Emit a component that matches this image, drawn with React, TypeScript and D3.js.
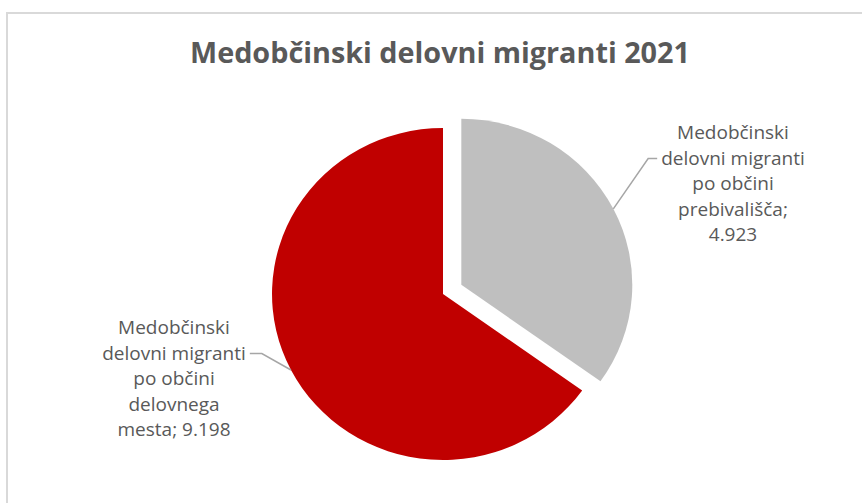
import { useRef, useEffect } from 'react';
import * as d3 from 'd3';

// Chart data
const categories = [
  'Medobčinski delovni migranti po občini prebivališča',
  'Medobčinski delovni migranti po občini delovnega mesta',
];
const values = [4923, 9198];
const colors = ['#BFBFBF', '#C00000'];
// label lines as Excel wrapped them
const labelLines = [
  ['Medobčinski', 'delovni migranti', 'po občini', 'prebivališča;', '{v}'],
  ['Medobčinski', 'delovni migranti', 'po občini', 'delovnega', 'mesta; {v}'],
];
const title = 'Medobčinski delovni migranti 2021';

const W = 862;
const H = 503;

export default function App() {
  const svgRef = useRef<SVGSVGElement>(null);

  useEffect(() => {
    if (!svgRef.current) return;
    const svg = d3.select(svgRef.current);
    svg.selectAll('*').remove();

    const slFormat = d3.formatLocale({
      decimal: ',',
      thousands: '.',
      grouping: [3],
      currency: ['', ' €'],
    }).format(',d');

    // chart area border (runs off the right/bottom of the shot)
    svg.append('rect')
      .attr('x', 7)
      .attr('y', 13)
      .attr('width', W + 40)
      .attr('height', H + 40)
      .attr('fill', '#fff')
      .attr('stroke', '#D9D9D9')
      .attr('stroke-width', 2);

    svg.append('text')
      .attr('x', 440)
      .attr('y', 63)
      .attr('text-anchor', 'middle')
      .attr('textLength', 500)
      .attr('lengthAdjust', 'spacingAndGlyphs')
      .style('font-family', '"Open Sans", sans-serif')
      .style('font-weight', 700)
      .style('font-size', '28px')
      .style('fill', '#595959')
      .text(title);

    // pie geometry
    const cx = 443;
    const cy = 294;
    const r = 166;
    const sx = 1.03; // picture is a touch wider than tall
    const explode = 20;

    const pie = d3.pie<number>().sort(null).value(d => d);
    const arcs = pie(values);
    const arc = d3.arc<d3.PieArcDatum<number>>().innerRadius(0).outerRadius(r);

    const offset = (d: d3.PieArcDatum<number>, i: number) => {
      if (i !== 0) return [0, 0];
      const a = (d.startAngle + d.endAngle) / 2;
      return [explode * Math.sin(a), -explode * Math.cos(a)];
    };

    const g = svg.append('g')
      .attr('transform', `translate(${cx},${cy}) scale(${sx},1)`);

    g.selectAll('path.slice')
      .data(arcs)
      .enter()
      .append('path')
      .attr('class', 'slice')
      .attr('d', arc)
      .attr('fill', (_, i) => colors[i])
      .attr('transform', (d, i) => {
        const [ox, oy] = offset(d, i);
        return `translate(${ox},${oy})`;
      });

    // labels: centre x, first line baseline, leader side
    const labelPos = [
      { x: 733, y: 139, side: 'left', lineIdx: 1 },
      { x: 174, y: 334, side: 'right', lineIdx: 1 },
    ];
    const lineH = 25.6;

    arcs.forEach((d, i) => {
      const lp = labelPos[i];
      const lines = labelLines[i].map(s => s.replace('{v}', slFormat(d.data)));
      const t = svg.append('text')
        .attr('text-anchor', 'middle')
        .style('font-family', '"Open Sans", sans-serif')
        .style('font-size', '19px')
        .style('fill', '#595959');
      lines.forEach((ln, k) => {
        t.append('tspan')
          .attr('x', lp.x)
          .attr('y', lp.y + k * lineH)
          .text(ln);
      });

      // leader line to the arc at mid angle
      const a = (d.startAngle + d.endAngle) / 2;
      const [ox, oy] = offset(d, i);
      const px = cx + sx * (ox + r * Math.sin(a));
      const py = cy + oy - r * Math.cos(a);
      const ly = lp.y + lp.lineIdx * lineH - 6;
      const node = t.selectAll<SVGTSpanElement, unknown>('tspan').nodes()[lp.lineIdx];
      const w = node.getComputedTextLength();
      const edge = lp.side === 'left' ? lp.x - w / 2 - 4 : lp.x + w / 2 + 4;
      const elbow = lp.side === 'left' ? edge - 9 : edge + 12;
      svg.append('polyline')
        .attr('points', `${edge},${ly} ${elbow},${ly} ${px},${py}`)
        .attr('fill', 'none')
        .attr('stroke', '#A6A6A6')
        .attr('stroke-width', 1.5);
    });
  }, []);

  return (
    <svg
      ref={svgRef}
      width={W}
      height={H}
      style={{ position: 'absolute', left: 0, top: 0, background: '#fff' }}
    />
  );
}
